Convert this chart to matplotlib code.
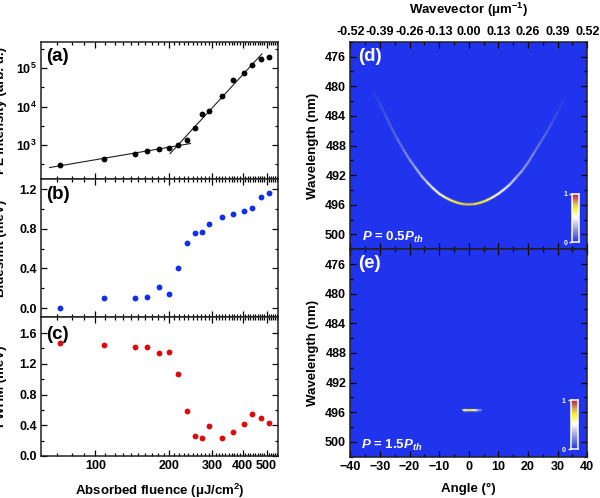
"""
PL, blueshift and FWHM vs fluence (left) and dispersion maps below / above threshold (right)
"""

import matplotlib
matplotlib.use('Agg')
import matplotlib.pyplot as plt
import numpy as np
from matplotlib.collections import LineCollection
from matplotlib.colors import LinearSegmentedColormap
from matplotlib.ticker import FixedLocator, FixedFormatter, NullFormatter

plt.rcParams['font.family'] = ['Liberation Sans', 'DejaVu Sans']
plt.rcParams['font.weight'] = 'bold'
plt.rcParams['mathtext.fontset'] = 'custom'
plt.rcParams['mathtext.rm'] = 'Liberation Sans:bold'
plt.rcParams['mathtext.bf'] = 'Liberation Sans:bold'
plt.rcParams['mathtext.it'] = 'Liberation Sans:italic:bold'
plt.rcParams['mathtext.default'] = 'bf'

# fluence data
fluence = [72, 108, 145, 163, 181.5, 199.5, 217.6, 236, 254.7, 273, 290.7, 327.5, 365.4, 403, 437, 474, 511]
pl_intensity = [300, 440, 582, 697, 770, 852, 1020, 1378, 2775, 6310, 7550, 19360, 49600, 75500, 122000, 175000, 194000]
blueshift = [0.0, 0.10, 0.10, 0.11, 0.21, 0.145, 0.41, 0.66, 0.76, 0.765, 0.85, 0.925, 0.955, 0.98, 1.015, 1.12, 1.16]
fwhm = [1.47, 1.445, 1.42, 1.42, 1.34, 1.35, 1.07, 0.58, 0.265, 0.24, 0.385, 0.24, 0.315, 0.42, 0.55, 0.49, 0.435]

# fit lines in (a)
fit_low_x = [65, 244.6]
fit_low_y = [256, 1083]
fit_high_x = [202, 479]
fit_high_y = [594, 236000]

# dispersion ridge in (d)
ridge_angle = [-32, -30, -28, -26, -24, -22, -20, -18, -16, -14, -12, -10, -8, -6, -4, -2, 0,
               2, 4, 6, 8, 10, 12, 14, 16, 18, 20, 22, 24, 26, 28, 30, 32]
ridge_wl = [480.9, 482.4, 484.0, 485.7, 487.2, 488.6, 489.9, 491.0, 492.1, 493.0, 493.8, 494.5, 495.0, 495.4, 495.7, 495.9, 495.95,
            495.9, 495.7, 495.4, 495.0, 494.5, 493.9, 493.2, 492.3, 491.4, 490.3, 489.0, 487.7, 486.4, 485.0, 483.4, 481.8]
ridge_int = [0.02, 0.05, 0.08, 0.10, 0.13, 0.17, 0.22, 0.28, 0.33, 0.40, 0.47, 0.52, 0.58, 0.65, 0.70, 0.73, 0.80,
             0.73, 0.70, 0.66, 0.58, 0.52, 0.47, 0.42, 0.32, 0.27, 0.22, 0.18, 0.14, 0.11, 0.08, 0.04, 0.02]

# lasing spot in (e)
spot_angle = [-2, -1, 0, 1, 2, 3, 4]
spot_wl = [495.7, 495.7, 495.7, 495.7, 495.7, 495.7, 495.7]
spot_int = [0.3, 0.65, 0.72, 0.7, 0.5, 0.3, 0.1]

x_major = [100, 200, 300, 400, 500]
x_labels = ['100', '200', '300', '400', '500']
x_minor = [70, 80, 90] + [v for v in range(110, 560, 10) if v not in x_major]
wavevector_labels = ['-0.52', '-0.39', '-0.26', '-0.13', '0.00', '0.13', '0.26', '0.39', '0.52']

BG = '#2034ee'
cmap = LinearSegmentedColormap.from_list('pl', [
    (0.0, BG), (0.12, '#5a68d8'), (0.3, '#a8aed8'), (0.5, '#ffffff'), (0.58, '#ffff90'),
    (0.7, '#f8f020'), (0.8, '#d8b060'), (0.9, '#c06050'), (1.0, '#d01020')])


def px_axes(left, top, right, bottom):
    return fig.add_axes([left / 600, 1 - bottom / 498, (right - left) / 600, (bottom - top) / 498])


def style(ax):
    for s in ax.spines.values():
        s.set_linewidth(1.1)
        s.set_color('#202020')
    ax.tick_params(which='major', direction='in', length=4.2, width=0.9, top=True, right=True, labelsize=9, pad=3)
    ax.tick_params(which='minor', direction='in', length=2.2, width=0.9, top=True, right=True)


def fluence_axis(ax, labels=False):
    ax.set_xscale('log')
    ax.set_xlim(60, 557)
    ax.xaxis.set_major_locator(FixedLocator(x_major))
    ax.xaxis.set_minor_locator(FixedLocator(x_minor))
    ax.xaxis.set_minor_formatter(NullFormatter())
    if labels:
        ax.xaxis.set_major_formatter(FixedFormatter(x_labels))
    else:
        ax.xaxis.set_major_formatter(NullFormatter())
    style(ax)


def ridge_lines(ax, angle, wl, inten):
    pts = np.column_stack([angle, wl])
    segs = np.stack([pts[:-1], pts[1:]], axis=1)
    vals = (np.array(inten[:-1]) + np.array(inten[1:])) / 2
    glow = LineCollection(segs, colors=cmap(vals), linewidths=2.4, alpha=0.35, capstyle='butt')
    core = LineCollection(segs, colors=cmap(vals), linewidths=1.2, capstyle='round')
    ax.add_collection(glow)
    ax.add_collection(core)


def map_axis(ax):
    ax.set_facecolor(BG)
    ax.set_xlim(-40, 40)
    ax.set_ylim(502, 474)
    ax.set_xticks(np.arange(-40, 41, 10))
    ax.set_xticks(np.arange(-35, 40, 10), minor=True)
    ax.set_yticks(np.arange(476, 501, 4))
    ax.set_yticks(np.arange(474, 503, 2), minor=True)
    ax.set_ylabel('Wavelength (nm)', fontsize=9.5, fontweight='bold', labelpad=4)
    style(ax)


def colour_key(left, top, right, bottom):
    cax = px_axes(left, top, right, bottom)
    grad = np.linspace(1, 0, 100).reshape(-1, 1)
    cax.imshow(grad, cmap=cmap, vmin=0, vmax=1, aspect='auto', extent=[0, 1, 0, 1])
    cax.set_xticks([])
    cax.set_yticks([0, 1])
    cax.set_yticklabels(['0', '1'], fontsize=5, color='white')
    cax.tick_params(axis='y', direction='out', length=2.5, width=1, color='white', pad=1)
    for s in cax.spines.values():
        s.set_color('white')
        s.set_linewidth(1.1)


fig = plt.figure(figsize=(6, 4.98), dpi=100)

# ============ (a) PL intensity ============
ax1 = px_axes(41, 41.7, 278, 179)
ax1.set_yscale('log')
ax1.plot(fit_low_x, fit_low_y, color='#202020', lw=0.8)
ax1.plot(fit_high_x, fit_high_y, color='#202020', lw=0.8)
ax1.plot(fluence, pl_intensity, 'o', color='black', ms=4.2, mew=0)
ax1.set_ylim(10 ** 2.11, 10 ** 5.69)
ax1.set_yticks([1e3, 1e4, 1e5])
ax1.set_yticklabels(['10$^{3}$', '10$^{4}$', '10$^{5}$'])
ax1.yaxis.set_minor_locator(FixedLocator([10 ** 2.5, 10 ** 3.5, 10 ** 4.5, 10 ** 5.5]))
ax1.yaxis.set_minor_formatter(NullFormatter())
fluence_axis(ax1)
ax1.set_ylabel('PL intensity (arb. u.)', fontsize=9.5, fontweight='bold', labelpad=3)
ax1.yaxis.set_label_coords(-0.145, 0.5)

# ============ (b) blueshift ============
ax2 = px_axes(41, 179, 278, 317)
ax2.plot(fluence, blueshift, 'o', color='#1030e8', ms=4.2, mew=0)
ax2.set_ylim(-0.09, 1.304)
ax2.set_yticks([0.0, 0.4, 0.8, 1.2])
ax2.set_yticks([0.2, 0.6, 1.0], minor=True)
fluence_axis(ax2)
ax2.set_ylabel('Blueshfit (meV)', fontsize=9.5, fontweight='bold')
ax2.yaxis.set_label_coords(-0.145, 0.5)

# ============ (c) FWHM ============
ax3 = px_axes(41, 317, 278, 456)
ax3.plot(fluence, fwhm, 'o', color='#dc0a0a', ms=4.2, mew=0)
ax3.set_ylim(0, 1.81)
ax3.set_yticks([0.0, 0.4, 0.8, 1.2, 1.6])
ax3.set_yticks([0.2, 0.6, 1.0, 1.4], minor=True)
fluence_axis(ax3, labels=True)
ax3.set_xlabel('Absorbed fluence (μJ/cm$^{2}$)', fontsize=9.5, fontweight='bold', labelpad=7)
ax3.set_ylabel('FWHM (meV)', fontsize=9.5, fontweight='bold')
ax3.yaxis.set_label_coords(-0.145, 0.5)

for ax, lab, yp in [(ax1, '(a)', 0.89), (ax2, '(b)', 0.89), (ax3, '(c)', 0.875)]:
    ax.text(0.022, yp, lab, transform=ax.transAxes, fontsize=13.5, fontweight='bold', va='center')

# ============ (d) below threshold ============
ax4 = px_axes(350.3, 41.7, 587.3, 249.3)
map_axis(ax4)
ridge_lines(ax4, ridge_angle, ridge_wl, ridge_int)
ax4.tick_params(axis='x', which='both', labelbottom=False, labeltop=True)
ax4.set_xticklabels(wavevector_labels)
ax4.xaxis.set_label_position('top')
ax4.set_xlabel('Wavevector (μm$^{-1}$)', fontsize=9.5, fontweight='bold', labelpad=8)
ax4.text(0.035, 0.93, '(d)', transform=ax4.transAxes, fontsize=13.5, fontweight='bold', color='white', va='center')
ax4.text(0.05, 0.055, r'$\mathit{P}$ = 0.5$\mathit{P}_{\mathit{th}}$', transform=ax4.transAxes,
         fontsize=9.5, color='white', va='center')

# ============ (e) above threshold ============
ax5 = px_axes(350.3, 249.3, 587.3, 456.7)
map_axis(ax5)
ridge_lines(ax5, spot_angle, spot_wl, spot_int)
ax5.set_xlabel('Angle (°)', fontsize=9.5, fontweight='bold', labelpad=7)
ax5.text(0.035, 0.93, '(e)', transform=ax5.transAxes, fontsize=13.5, fontweight='bold', color='white', va='center')
ax5.text(0.045, 0.055, r'$\mathit{P}$ = 1.5$\mathit{P}_{\mathit{th}}$', transform=ax5.transAxes,
         fontsize=9.5, color='white', va='center')

colour_key(572, 193.5, 579, 242)
colour_key(570.5, 400, 577.5, 449)

fig.savefig('out.png', dpi=100)
